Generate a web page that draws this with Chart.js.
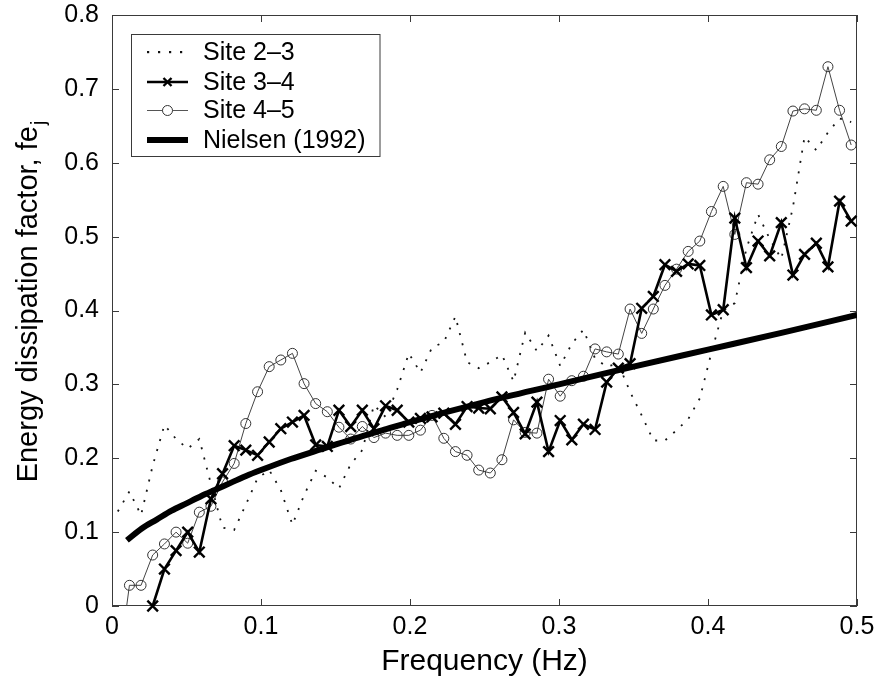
<!DOCTYPE html>
<html>
<head>
<meta charset="utf-8">
<script src="https://cdn.jsdelivr.net/npm/chart.js@4.4.1/dist/chart.umd.min.js"></script>
<style>
  html, body { margin: 0; padding: 0; background: #fff; }
</style>
</head>
<body>
<canvas id="fejChart" width="876" height="679"></canvas>
<script>
// frequency bins (Hz)
const freq = [
  0.0039, 0.0117, 0.0195, 0.0273, 0.0352, 0.0430, 0.0508, 0.0586, 0.0664, 0.0742,
  0.0820, 0.0898, 0.0977, 0.1055, 0.1133, 0.1211, 0.1289, 0.1367, 0.1445, 0.1523,
  0.1602, 0.1680, 0.1758, 0.1836, 0.1914, 0.1992, 0.2070, 0.2148, 0.2227, 0.2305,
  0.2383, 0.2461, 0.2539, 0.2617, 0.2695, 0.2773, 0.2852, 0.2930, 0.3008, 0.3086,
  0.3164, 0.3242, 0.3320, 0.3398, 0.3477, 0.3555, 0.3633, 0.3711, 0.3789, 0.3867,
  0.3945, 0.4023, 0.4102, 0.4180, 0.4258, 0.4336, 0.4414, 0.4492, 0.4570, 0.4648,
  0.4727, 0.4805, 0.4883, 0.4961
]
// Site 2-3 (dotted)
const site23 = [
  0.128, 0.155, 0.123, 0.190, 0.245, 0.226, 0.213, 0.226, 0.165, 0.106,
  0.103, 0.137, 0.173, 0.184, 0.157, 0.110, 0.150, 0.183, 0.174, 0.159,
  0.192, 0.211, 0.272, 0.256, 0.293, 0.342, 0.316, 0.350, 0.357, 0.392,
  0.330, 0.322, 0.330, 0.340, 0.304, 0.370, 0.345, 0.366, 0.325, 0.355,
  0.374, 0.335, 0.324, 0.328, 0.290, 0.258, 0.224, 0.224, 0.238, 0.253,
  0.281, 0.343, 0.400, 0.410, 0.484, 0.530, 0.497, 0.470, 0.540, 0.635,
  0.617, 0.641, 0.660, 0.655
]
// Site 3-4 (x markers)
const site34 = [
  null, null, null, 0.000, 0.050, 0.075, 0.100, 0.073, 0.145, 0.179,
  0.217, 0.211, 0.204, 0.222, 0.240, 0.249, 0.258, 0.218, 0.216, 0.265,
  0.243, 0.265, 0.240, 0.271, 0.265, 0.249, 0.254, 0.256, 0.261, 0.246,
  0.270, 0.268, 0.267, 0.283, 0.262, 0.233, 0.276, 0.209, 0.251, 0.225,
  0.246, 0.239, 0.303, 0.322, 0.328, 0.403, 0.419, 0.462, 0.453, 0.463,
  0.461, 0.394, 0.401, 0.525, 0.458, 0.494, 0.474, 0.519, 0.448, 0.476,
  0.491, 0.459, 0.548, 0.521
]
// Site 4-5 (circles), first bin falls below the axis
const site45 = [
  -0.090, 0.028, 0.028, 0.069, 0.084, 0.100, 0.085, 0.127, 0.135, 0.168,
  0.193, 0.247, 0.290, 0.324, 0.333, 0.342, 0.301, 0.274, 0.263, 0.242,
  0.226, 0.243, 0.228, 0.234, 0.231, 0.231, 0.238, 0.258, 0.227, 0.209,
  0.204, 0.184, 0.180, 0.198, 0.252, 0.235, 0.234, 0.307, 0.284, 0.305,
  0.311, 0.348, 0.344, 0.341, 0.402, 0.369, 0.402, 0.434, 0.456, 0.480,
  0.494, 0.534, 0.568, 0.503, 0.573, 0.571, 0.604, 0.622, 0.670, 0.673,
  0.671, 0.730, 0.671, 0.624
]
// Nielsen (1992) curve
const nielsenFreq = [0.01, 0.02, 0.03, 0.04, 0.05, 0.06, 0.07, 0.08, 0.09, 0.10,
  0.12, 0.14, 0.16, 0.18, 0.20, 0.25, 0.30, 0.35, 0.40, 0.45, 0.50]
const nielsen = [0.089, 0.105, 0.117, 0.129, 0.139, 0.149, 0.158, 0.167, 0.176, 0.184,
  0.199, 0.212, 0.225, 0.237, 0.249, 0.276, 0.300, 0.324, 0.347, 0.370, 0.394]

const xTicks = [0, 0.1, 0.2, 0.3, 0.4, 0.5]
const yTicks = [0, 0.1, 0.2, 0.3, 0.4, 0.5, 0.6, 0.7, 0.8]
const names = ['Site 2\u20133', 'Site 3\u20134', 'Site 4\u20135', 'Nielsen (1992)']
const xTitle = 'Frequency (Hz)'
const yTitle = 'Energy dissipation factor, fe'
const ySub = 'j'

const FONT = "'Liberation Sans', Arial, Helvetica, sans-serif"

function pts(xs, ys) {
  let out = []
  for (let i = 0; i < xs.length; i++) {
    if (ys[i] !== null) out.push({ x: xs[i], y: ys[i] })
  }
  return out
}

function fmt(v) {
  return String(+Number(v).toFixed(1))
}

// box, inward ticks, axis titles and legend drawn MATLAB-style
const decor = {
  id: 'decor',
  beforeDatasetsDraw(chart) {
    const { ctx, chartArea: a, scales } = chart
    const tl = 7
    ctx.save()
    ctx.strokeStyle = '#3a3a3a'
    ctx.lineWidth = 1
    ctx.strokeRect(a.left + 0.5, a.top + 0.5, a.right - a.left - 1, a.bottom - a.top - 1)
    ctx.beginPath()
    xTicks.forEach(v => {
      const px = Math.round(scales.x.getPixelForValue(v)) + 0.5
      ctx.moveTo(px, a.bottom); ctx.lineTo(px, a.bottom - tl)
      ctx.moveTo(px, a.top); ctx.lineTo(px, a.top + tl)
    })
    yTicks.forEach(v => {
      const py = Math.round(scales.y.getPixelForValue(v)) + 0.5
      ctx.moveTo(a.left, py); ctx.lineTo(a.left + tl, py)
      ctx.moveTo(a.right, py); ctx.lineTo(a.right - tl, py)
    })
    ctx.stroke()
    ctx.restore()
  },
  afterDraw(chart) {
    const { ctx, chartArea: a } = chart
    ctx.save()
    ctx.fillStyle = '#000'
    // x title
    ctx.font = '30px ' + FONT
    ctx.textAlign = 'center'
    ctx.textBaseline = 'alphabetic'
    ctx.fillText(xTitle, (a.left + a.right) / 2, 670)
    // y title with subscript
    ctx.translate(37, 302)
    ctx.rotate(-Math.PI / 2)
    ctx.font = '29px ' + FONT
    const w1 = ctx.measureText(yTitle).width
    ctx.font = '20px ' + FONT
    const w2 = ctx.measureText(ySub).width
    const x0 = -(w1 + w2) / 2
    ctx.textAlign = 'left'
    ctx.font = '29px ' + FONT
    ctx.fillText(yTitle, x0, 0)
    ctx.font = '20px ' + FONT
    ctx.fillText(ySub, x0 + w1 + 1, 8)
    ctx.restore()

    // legend
    ctx.save()
    const bx = 131.5, by = 34.5, bw = 248.5, bh = 122
    ctx.fillStyle = '#fff'
    ctx.fillRect(bx, by, bw, bh)
    ctx.strokeStyle = '#3a3a3a'
    ctx.lineWidth = 1
    ctx.strokeRect(bx, by, bw, bh)
    const rows = [52, 82, 110.5, 140]
    const x1 = 147, x2 = 188, xm = (x1 + x2) / 2
    ctx.font = '25px ' + FONT
    ctx.textAlign = 'left'
    ctx.textBaseline = 'middle'
    rows.forEach((ry, i) => {
      ctx.fillStyle = '#000'
      ctx.fillText(names[i], 203, ry + 1)
    })
    // dotted
    ctx.fillStyle = '#111'
    ;[147, 158, 169, 180].forEach(dx => ctx.fillRect(dx, rows[0] - 1, 2.2, 2.2))
    // x marker line
    ctx.strokeStyle = '#000'
    ctx.lineWidth = 2.4
    ctx.beginPath(); ctx.moveTo(x1, rows[1]); ctx.lineTo(x2, rows[1]); ctx.stroke()
    ctx.beginPath()
    ctx.moveTo(xm - 4, rows[1] - 4); ctx.lineTo(xm + 4, rows[1] + 4)
    ctx.moveTo(xm - 4, rows[1] + 4); ctx.lineTo(xm + 4, rows[1] - 4)
    ctx.stroke()
    // circle line
    ctx.strokeStyle = '#555'
    ctx.lineWidth = 1
    ctx.beginPath(); ctx.moveTo(x1, rows[2]); ctx.lineTo(xm - 5, rows[2]); ctx.moveTo(xm + 5, rows[2]); ctx.lineTo(x2, rows[2]); ctx.stroke()
    ctx.strokeStyle = '#333'
    ctx.beginPath(); ctx.arc(xm, rows[2], 5, 0, Math.PI * 2); ctx.stroke()
    // thick line
    ctx.strokeStyle = '#000'
    ctx.lineWidth = 6
    ctx.beginPath(); ctx.moveTo(x1, rows[3]); ctx.lineTo(x2, rows[3]); ctx.stroke()
    ctx.restore()
  }
}

const data = {
  datasets: [
    {
      label: names[0],
      data: pts(freq, site23),
      borderColor: '#151515',
      borderWidth: 1.8,
      borderDash: [2, 8.5],
      pointRadius: 0,
      order: 4
    },
    {
      label: names[1],
      data: pts(freq, site34),
      borderColor: '#000',
      borderWidth: 2.6,
      pointStyle: 'crossRot',
      pointRadius: 7.5,
      pointBorderWidth: 2.4,
      pointBorderColor: '#000',
      order: 2,
      clip: 12
    },
    {
      label: names[2],
      data: pts(freq, site45),
      borderColor: '#444',
      borderWidth: 1,
      pointStyle: 'circle',
      pointRadius: 5,
      pointBorderWidth: 1,
      pointBorderColor: '#333',
      pointBackgroundColor: 'rgba(255,255,255,0)',
      order: 3,
      clip: 0
    },
    {
      label: names[3],
      data: pts(nielsenFreq, nielsen),
      borderColor: '#000',
      borderWidth: 6,
      borderCapStyle: 'butt',
      pointRadius: 0,
      cubicInterpolationMode: 'monotone',
      order: 1
    }
  ]
}

const config = {
  type: 'line',
  data,
  plugins: [decor],
  options: {
    responsive: false,
    animation: false,
    devicePixelRatio: 1,
    events: [],
    layout: { padding: { left: 0, right: 19, top: 15, bottom: 0 } },
    plugins: {
      legend: { display: false },
      tooltip: { enabled: false }
    },
    scales: {
      x: {
        type: 'linear',
        min: 0,
        max: 0.5,
        afterFit: s => { s.height = 73; s.paddingLeft = 0; s.paddingRight = 0 },
        afterBuildTicks: s => { s.ticks = xTicks.map(v => ({ value: v })) },
        grid: { display: false },
        border: { display: false },
        ticks: {
          callback: v => fmt(v),
          color: '#000',
          padding: -2,
          maxRotation: 0,
          font: { family: FONT, size: 25 }
        }
      },
      y: {
        type: 'linear',
        min: 0,
        max: 0.8,
        afterFit: s => { s.width = 112; s.paddingTop = 0; s.paddingBottom = 0 },
        afterBuildTicks: s => { s.ticks = yTicks.map(v => ({ value: v })) },
        grid: { display: false },
        border: { display: false },
        ticks: {
          callback: v => fmt(v),
          color: '#000',
          padding: 5,
          font: { family: FONT, size: 25 }
        }
      }
    }
  }
}

var fejChart = new Chart(document.getElementById('fejChart'), config)
</script>
</body>
</html>
